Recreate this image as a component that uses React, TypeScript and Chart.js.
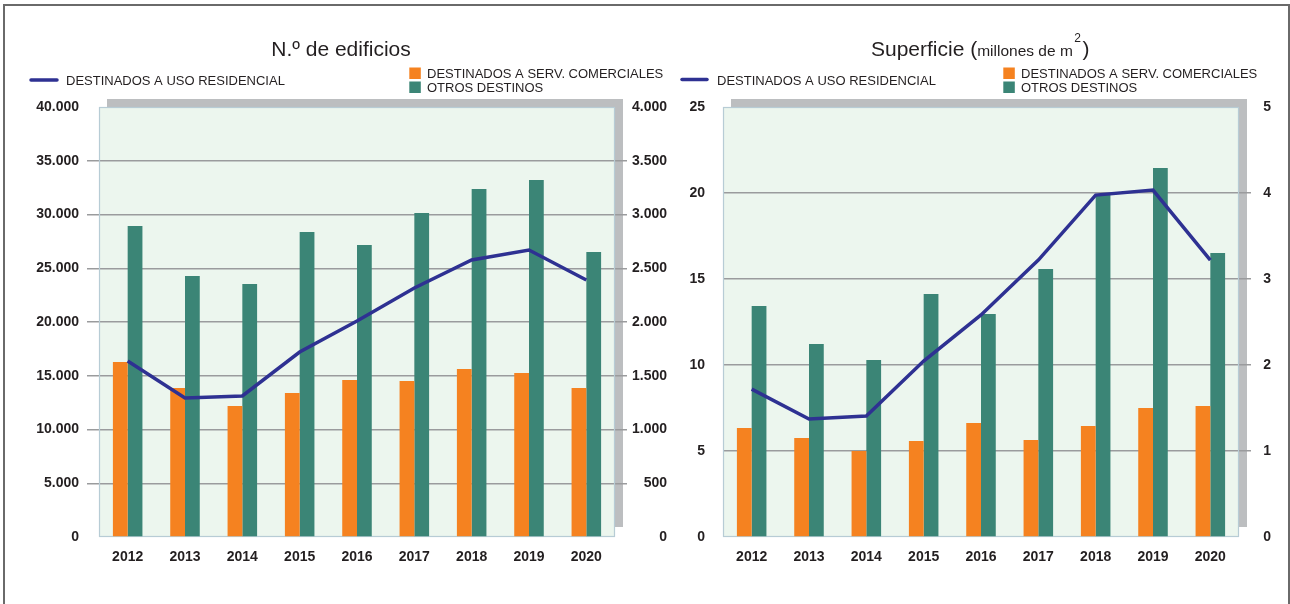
import React, { useEffect, useRef } from 'react';
import { Chart, registerables } from 'chart.js';

Chart.register(...registerables);

// ---------- DATA ----------
const years = ['2012', '2013', '2014', '2015', '2016', '2017', '2018', '2019', '2020'];

// N.º de edificios
const edificiosResidencial = [16370, 12930, 13120, 17210, 20090, 23160, 25770, 26700, 23910];
const edificiosComerciales = [1628, 1386, 1219, 1340, 1460, 1451, 1563, 1526, 1386];
const edificiosOtros = [2893, 2428, 2353, 2837, 2716, 3014, 3237, 3321, 2651];

// Superficie (millones de m2)
const superficieResidencial = [8.6, 6.86, 7.03, 10.23, 12.91, 16.1, 19.88, 20.17, 16.1];
const superficieComerciales = [1.267, 1.151, 1.0, 1.116, 1.326, 1.128, 1.291, 1.5, 1.523];
const superficieOtros = [2.686, 2.244, 2.058, 2.826, 2.593, 3.116, 3.988, 4.291, 3.302];

const edificiosLeftTicks = { min: 0, max: 40000, step: 5000 };
const edificiosRightTicks = { min: 0, max: 4000, step: 500 };
const superficieLeftTicks = { min: 0, max: 25, step: 5 };
const superficieRightTicks = { min: 0, max: 5, step: 1 };

const LABEL_RESIDENCIAL = 'DESTINADOS A USO RESIDENCIAL';
const LABEL_COMERCIALES = 'DESTINADOS A SERV. COMERCIALES';
const LABEL_OTROS = 'OTROS DESTINOS';

// ---------- STYLE ----------
const TEXT = '#231f20';
const ORANGE = '#f58220';
const TEAL = '#3b8576';
const NAVY = '#2e3192';
const GRID = '#9a9b9d';
const PLOT_BG = '#ecf6ee';
const PLOT_BORDER = '#b7ccd5';
const SHADOW = '#bcbec0';
const SANS = '"Liberation Sans", Arial, sans-serif';
const TICK_FONT = { family: '"Liberation Sans Narrow", "Liberation Sans", Arial, sans-serif', size: 14, weight: 'bold' };

function fmtThousands(v: number): string {
  return String(Math.round(v)).replace(/\B(?=(\d{3})+(?!\d))/g, '.');
}

function drawLineLegend(ctx: CanvasRenderingContext2D, x1: number, x2: number, y: number, tx: number, baseline: number, text: string) {
  ctx.save();
  ctx.strokeStyle = NAVY;
  ctx.lineWidth = 3.5;
  ctx.lineCap = 'round';
  ctx.beginPath();
  ctx.moveTo(x1, y);
  ctx.lineTo(x2, y);
  ctx.stroke();
  ctx.fillStyle = TEXT;
  ctx.font = `13px ${SANS}`;
  ctx.textAlign = 'left';
  ctx.textBaseline = 'alphabetic';
  ctx.fillText(text, tx, baseline);
  ctx.restore();
}

function drawBoxLegend(ctx: CanvasRenderingContext2D, x: number, y: number, color: string, tx: number, baseline: number, text: string) {
  ctx.save();
  ctx.fillStyle = color;
  ctx.fillRect(x, y, 11.5, 11.5);
  ctx.fillStyle = TEXT;
  ctx.font = `13px ${SANS}`;
  ctx.textAlign = 'left';
  ctx.textBaseline = 'alphabetic';
  ctx.fillText(text, tx, baseline);
  ctx.restore();
}

function makePanelPlugin(drawHeader: (ctx: CanvasRenderingContext2D) => void) {
  return {
    id: 'panelDeco',
    beforeDraw(chart: any) {
      const { ctx, chartArea: a } = chart;
      ctx.save();
      ctx.fillStyle = SHADOW;
      ctx.fillRect(a.left + 8, a.top - 8, a.right - a.left, a.bottom - a.top - 2);
      ctx.fillStyle = PLOT_BG;
      ctx.fillRect(a.left, a.top, a.right - a.left, a.bottom - a.top);
      ctx.restore();
    },
    beforeDatasetsDraw(chart: any) {
      const { ctx, chartArea: a } = chart;
      ctx.save();
      ctx.strokeStyle = PLOT_BORDER;
      ctx.lineWidth = 1.2;
      ctx.strokeRect(a.left + 0.5, a.top + 0.5, a.right - a.left - 1, a.bottom - a.top - 1);
      ctx.restore();
    },
    afterDraw(chart: any) {
      drawHeader(chart.ctx);
    },
  };
}

const gridColor = (ctx: any) => {
  const n = ctx.scale && ctx.scale.ticks ? ctx.scale.ticks.length : 0;
  return ctx.index === 0 || ctx.index === n - 1 ? 'rgba(0,0,0,0)' : GRID;
};

interface PanelCfg {
  line: number[];
  comerciales: number[];
  otros: number[];
  left: { min: number; max: number; step: number };
  right: { min: number; max: number; step: number };
  leftWidth: number;
  leftTickLen: number;
  leftPadding: number;
  rightWidth: number;
  rightTickPadding: number;
  padRight: number;
  fmt: (v: number) => string;
  header: (ctx: CanvasRenderingContext2D) => void;
}

function buildChart(canvas: HTMLCanvasElement, c: PanelCfg) {
  return new Chart(canvas, {
    type: 'bar',
    data: {
      labels: years,
      datasets: [
        {
          type: 'line',
          label: LABEL_RESIDENCIAL,
          data: c.line,
          yAxisID: 'yL',
          borderColor: NAVY,
          borderWidth: 3.5,
          pointRadius: 0,
          tension: 0,
          fill: false,
          order: 0,
        } as any,
        {
          type: 'bar',
          label: LABEL_COMERCIALES,
          data: c.comerciales,
          yAxisID: 'yR',
          backgroundColor: ORANGE,
          barPercentage: 1,
          categoryPercentage: 0.515,
          order: 1,
        },
        {
          type: 'bar',
          label: LABEL_OTROS,
          data: c.otros,
          yAxisID: 'yR',
          backgroundColor: TEAL,
          barPercentage: 1,
          categoryPercentage: 0.515,
          order: 1,
        },
      ],
    },
    options: {
      responsive: false,
      animation: false,
      events: [],
      layout: { padding: { left: 0, top: 107, right: c.padRight, bottom: 27 } },
      plugins: { legend: { display: false }, title: { display: false }, tooltip: { enabled: false } },
      scales: {
        x: {
          grid: { display: false },
          border: { display: false },
          ticks: { color: TEXT, font: TICK_FONT, padding: 4, maxRotation: 0 },
          afterFit: (s: any) => { s.height = 40; },
        },
        yL: {
          position: 'left',
          min: c.left.min,
          max: c.left.max,
          border: { display: false },
          grid: {
            color: gridColor,
            lineWidth: 1.5,
            drawTicks: c.leftTickLen > 0,
            tickLength: c.leftTickLen,
          },
          ticks: {
            stepSize: c.left.step,
            color: TEXT,
            font: TICK_FONT,
            padding: c.leftPadding,
            callback: (v: any) => c.fmt(Number(v)),
          },
          afterFit: (s: any) => { s.width = c.leftWidth; },
        },
        yR: {
          position: 'right',
          min: c.right.min,
          max: c.right.max,
          border: { display: false },
          grid: { drawOnChartArea: false, color: gridColor, lineWidth: 1.5, tickLength: 12 },
          ticks: {
            stepSize: c.right.step,
            color: TEXT,
            font: TICK_FONT,
            padding: c.rightTickPadding,
            crossAlign: 'far',
            callback: (v: any) => c.fmt(Number(v)),
          },
          afterFit: (s: any) => { s.width = c.rightWidth; },
        },
      },
    } as any,
    plugins: [makePanelPlugin(c.header)],
  });
}

const headerEdificios = (ctx: CanvasRenderingContext2D) => {
  ctx.save();
  ctx.fillStyle = TEXT;
  ctx.font = `21px ${SANS}`;
  ctx.textAlign = 'center';
  ctx.textBaseline = 'alphabetic';
  ctx.fillText('N.º de edificios', 341, 55.5);
  ctx.restore();
  drawLineLegend(ctx, 31, 57, 80, 66, 85, LABEL_RESIDENCIAL);
  drawBoxLegend(ctx, 409.3, 67.5, ORANGE, 427, 77.5, LABEL_COMERCIALES);
  drawBoxLegend(ctx, 409.3, 81.5, TEAL, 427, 92, LABEL_OTROS);
};

const headerSuperficie = (ctx: CanvasRenderingContext2D) => {
  ctx.save();
  ctx.fillStyle = TEXT;
  ctx.textAlign = 'left';
  ctx.textBaseline = 'alphabetic';
  let x = 191;
  const base = 55.5;
  const parts: [string, string, number, number][] = [
    ['Superficie (', `21px ${SANS}`, base, 0],
    ['millones de m', `15.5px ${SANS}`, base, 1.5],
    ['2', `12px ${SANS}`, 41.5, 1.5],
    [')', `21px ${SANS}`, base, 0],
  ];
  for (const [t, f, y, gap] of parts) {
    ctx.font = f;
    ctx.fillText(t, x, y);
    x += ctx.measureText(t).width + gap;
  }
  ctx.restore();
  drawLineLegend(ctx, 2, 27, 79.5, 37, 85, LABEL_RESIDENCIAL);
  drawBoxLegend(ctx, 323.3, 67.5, ORANGE, 341, 77.5, LABEL_COMERCIALES);
  drawBoxLegend(ctx, 323.3, 81.5, TEAL, 341, 92, LABEL_OTROS);
};

export default function App() {
  const leftRef = useRef<HTMLCanvasElement>(null);
  const rightRef = useRef<HTMLCanvasElement>(null);

  useEffect(() => {
    const charts: Chart[] = [];
    if (leftRef.current) {
      charts.push(
        buildChart(leftRef.current, {
          line: edificiosResidencial,
          comerciales: edificiosComerciales,
          otros: edificiosOtros,
          left: edificiosLeftTicks,
          right: edificiosRightTicks,
          leftWidth: 99,
          leftTickLen: 12,
          leftPadding: 8,
          rightWidth: 52,
          rightTickPadding: 7,
          padRight: 13,
          fmt: fmtThousands,
          header: headerEdificios,
        })
      );
    }
    if (rightRef.current) {
      charts.push(
        buildChart(rightRef.current, {
          line: superficieResidencial,
          comerciales: superficieComerciales,
          otros: superficieOtros,
          left: superficieLeftTicks,
          right: superficieRightTicks,
          leftWidth: 43,
          leftTickLen: 0,
          leftPadding: 18,
          rightWidth: 32,
          rightTickPadding: 12,
          padRight: 19,
          fmt: (v: number) => String(v),
          header: headerSuperficie,
        })
      );
    }
    return () => charts.forEach((ch) => ch.destroy());
  }, []);

  return (
    <div style={{ position: 'fixed', left: 0, top: 0, width: 1290, height: 604, background: '#ffffff', overflow: 'hidden' }}>
      <div
        style={{
          position: 'absolute',
          left: 3,
          top: 4,
          width: 1283,
          height: 700,
          borderLeft: '2px solid #6a6a6a',
          borderTop: '2px solid #6a6a6a',
          borderRight: '2px solid #6a6a6a',
        }}
      />
      <canvas ref={leftRef} width={680} height={604} style={{ position: 'absolute', left: 0, top: 0 }} />
      <canvas ref={rightRef} width={610} height={604} style={{ position: 'absolute', left: 680, top: 0 }} />
    </div>
  );
}
